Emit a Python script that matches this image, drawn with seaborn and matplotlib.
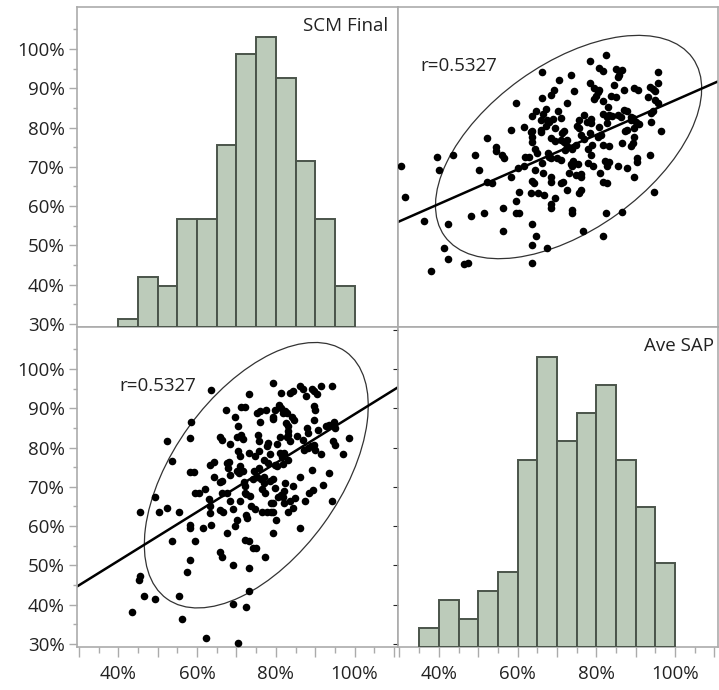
import numpy as np
import matplotlib
matplotlib.use("Agg")
import matplotlib.pyplot as plt
from matplotlib.patches import Ellipse
from matplotlib.ticker import FixedLocator, FuncFormatter
import seaborn as sns

# SCM Final (x of lower-left) and Ave SAP (y of lower-left)
scm_final = [
    43.4, 45.3, 45.6, 46.4, 45.5, 49.3, 49.3, 50.2, 52.3, 52.3,
    53.6, 53.6, 55.5, 55.5, 56.1, 57.4, 58.2, 58.2, 58.2, 58.2,
    58.4, 58.2, 59.1, 59.5, 59.5, 60.6, 61.4, 62.0, 62.3, 62.9,
    63.3, 63.3, 63.3, 64.2, 63.5, 63.5, 64.2, 65.8, 66.2, 65.8,
    66.2, 65.8, 66.5, 65.8, 66.2, 67.4, 67.5, 68.2, 67.5, 68.4,
    67.5, 68.4, 68.4, 69.1, 69.1, 69.2, 69.7, 70.3, 70.1, 70.1,
    70.6, 70.1, 69.7, 70.3, 71.0, 71.1, 72.2, 71.0, 71.8, 72.2,
    72.2, 72.4, 72.6, 72.5, 72.2, 73.1, 73.1, 73.1, 73.1, 73.1,
    73.6, 74.1, 75.0, 74.5, 75.2, 75.6, 75.2, 76.0, 75.6, 75.6,
    76.0, 76.4, 76.9, 76.9, 77.3, 77.3, 77.5, 77.7, 77.7, 78.1,
    78.6, 79.2, 79.2, 79.4, 79.4, 79.8, 79.8, 80.4, 79.4, 80.1,
    80.9, 81.3, 81.1, 81.1, 81.5, 81.3, 81.8, 82.4, 82.0, 82.4,
    82.8, 82.6, 83.2, 83.0, 83.2, 83.0, 83.6, 84.3, 84.1, 84.5,
    84.3, 84.3, 86.2, 86.2, 86.2, 87.0, 87.2, 88.1, 87.4, 87.7,
    87.9, 88.1, 88.3, 89.2, 89.8, 90.4, 89.6, 90.0, 89.6, 89.2,
    89.5, 89.6, 90.0, 91.4, 91.4, 92.1, 90.8, 93.4, 93.4, 94.2,
    94.2, 94.7, 94.4, 95.1, 97.0, 98.5,
    81.4, 81.8, 79.2, 83.1, 94.9, 71.2, 71.6, 75.4, 78.0, 83.5,
    70.3, 74.6, 82.2, 81.8, 70.8, 71.6, 76.3, 79.2, 82.2, 74.6,
    78.8, 80.5, 83.5, 78.8, 67.9, 66.2, 89.0, 92.8, 72.5,
    77.0, 78.5, 80.2, 82.8, 85.3, 86.8, 74.2, 76.6, 73.5, 79.8,
    84.8,
]
ave_sap = [
    38.1, 46.3, 47.4, 42.2, 63.6, 41.4, 67.5, 63.6, 64.6, 81.6,
    76.5, 56.3, 42.2, 63.6, 36.3, 48.2, 51.4, 60.3, 59.5, 82.4,
    86.4, 73.7, 73.7, 56.3, 68.4, 68.4, 59.5, 69.4, 31.4, 66.8,
    65.1, 63.4, 75.6, 76.2, 94.6, 60.3, 72.6, 82.8, 81.8, 71.1,
    68.4, 64.1, 63.6, 53.5, 52.2, 89.6, 76.0, 76.2, 68.4, 66.5,
    58.2, 80.9, 73.1, 50.1, 40.1, 64.3, 87.9, 85.6, 82.8, 73.9,
    73.5, 61.6, 60.1, 30.3, 66.3, 90.3, 90.3, 77.9, 71.1, 70.1,
    68.4, 62.9, 62.0, 39.5, 56.5, 56.1, 49.3, 43.5, 93.7, 78.6,
    65.0, 54.4, 54.4, 73.9, 72.6, 74.8, 88.8, 89.2, 81.6, 79.0,
    86.5, 63.7, 70.9, 72.6, 68.4, 52.2, 89.6, 80.3, 63.7, 76.0,
    71.4, 96.4, 63.7, 58.2, 87.9, 89.6, 75.6, 75.2, 66.0, 61.6,
    90.9, 93.9, 82.8, 78.6, 77.7, 68.0, 67.5, 70.9, 66.0, 89.2,
    88.8, 86.2, 85.4, 84.1, 76.9, 63.6, 93.9, 94.3, 87.9, 87.1,
    70.3, 64.6, 59.5, 72.6, 95.6, 94.8, 79.4, 80.0, 66.3, 93.0,
    85.0, 83.7, 68.4, 94.8, 94.3, 93.7, 90.5, 89.6, 87.1, 74.3,
    69.2, 80.7, 79.4, 95.6, 78.4, 70.5, 84.5, 85.8, 73.5, 95.6,
    66.3, 86.6, 81.6, 80.7, 78.4, 82.4,
    90.1, 88.9, 87.2, 83.3, 85.0, 83.3, 82.1, 83.3, 81.2, 81.6,
    79.1, 77.8, 78.7, 75.7, 75.3, 74.0, 71.9, 71.9, 69.0, 64.3,
    66.0, 67.3, 66.4, 63.5, 74.9, 71.5, 80.4, 85.5, 68.1,
    76.8, 78.3, 80.8, 82.6, 83.0, 81.8, 72.0, 69.5, 67.6, 69.6,
    67.2,
]
assert len(scm_final) == len(ave_sap)

# histogram bars on the diagonal
scm_edges = [40, 45, 50, 55, 60, 65, 70, 75, 80, 85, 90, 95, 100]
scm_counts = [1, 6, 5, 13, 13, 22, 33, 35, 30, 20, 13, 5]
sap_edges = [35, 40, 45, 50, 55, 60, 65, 70, 75, 80, 85, 90, 95, 100]
sap_counts = [2, 5, 3, 6, 8, 20, 31, 22, 25, 28, 20, 15, 9]

r_label = "r=0.5327"
names = ["SCM Final", "Ave SAP"]

sns.set_style("white")
plt.rcParams["font.family"] = ["Open Sans", "DejaVu Sans"]

fig = plt.figure(figsize=(7.19, 6.9), dpi=100)
W, H = 719, 690
def box(x0, y0, x1, y1):
    return [x0 / W, 1 - y1 / H, (x1 - x0) / W, (y1 - y0) / H]

ax_tl = fig.add_axes(box(77, 7, 397.5, 327))
ax_tr = fig.add_axes(box(397.5, 7, 718, 327))
ax_bl = fig.add_axes(box(77, 327, 397.5, 647))
ax_br = fig.add_axes(box(397.5, 327, 718, 647))

xlim = (29.5, 110.9)
ylim = (29.2, 110.7)
grey = "#ababab"
fill = "#bccbba"
edge = "#4a544a"
fs = 13.5
pct = FuncFormatter(lambda v, p: f"{v:.0f}%")
x_lab = FuncFormatter(lambda v, p: f"{v:.0f}%" if round(v) in (40, 60, 80, 100) else "")

for ax in (ax_tl, ax_tr, ax_bl, ax_br):
    ax.set_xlim(*xlim)
    ax.set_ylim(*ylim)
    for s in ax.spines.values():
        s.set_color(grey)
        s.set_linewidth(1.2)
    ax.set_facecolor("white")
    ax.tick_params(left=False, bottom=False, labelleft=False, labelbottom=False)

# y axes on the left column
for ax in (ax_tl, ax_bl):
    ax.yaxis.set_major_locator(FixedLocator(np.arange(30, 101, 10)))
    ax.yaxis.set_minor_locator(FixedLocator(np.arange(35, 106, 10)))
    ax.yaxis.set_major_formatter(pct)
    ax.tick_params(axis="y", which="major", left=True, labelleft=True, length=6,
                   width=1, color=grey, labelsize=fs, labelcolor="#222222", pad=3)
    ax.tick_params(axis="y", which="minor", left=True, length=3, width=1, color=grey)

# x axes on the bottom row
for ax in (ax_bl, ax_br):
    ax.xaxis.set_major_locator(FixedLocator(np.arange(30, 111, 10)))
    ax.xaxis.set_minor_locator(FixedLocator(np.arange(35, 106, 10)))
    ax.xaxis.set_major_formatter(x_lab)
    ax.tick_params(axis="x", which="major", bottom=True, labelbottom=True, length=7,
                   width=1, color=grey, labelsize=fs, labelcolor="#222222", pad=6)
    ax.tick_params(axis="x", which="minor", bottom=True, length=4, width=1, color=grey)

def hist_panel(ax, edges, counts, label, lx):
    hx = ax.twinx()
    centers = [(a + b) / 2 for a, b in zip(edges[:-1], edges[1:])]
    sns.histplot(x=centers, weights=counts, bins=edges, ax=hx, color=fill,
                 edgecolor=edge, linewidth=1.4, alpha=1)
    hx.set_ylim(0, max(counts) / 0.906)
    hx.set_xlim(*xlim)
    hx.set_yticks([])
    hx.set_ylabel("")
    for s in hx.spines.values():
        s.set_visible(False)
    ax.text(lx, 0.942, label, transform=ax.transAxes,
            ha="right", va="center", fontsize=fs, color="#222222")

def scatter_panel(ax, x, y, tx):
    x = np.asarray(x)
    y = np.asarray(y)
    sns.scatterplot(x=x, y=y, ax=ax, color="black", s=30, linewidth=0, zorder=3)
    sns.regplot(x=x, y=y, ax=ax, scatter=False, ci=None, truncate=False,
                line_kws=dict(color="black", lw=1.8))
    # 95% density ellipse
    cov = np.cov(x, y)
    vals, vecs = np.linalg.eigh(cov)
    k = np.sqrt(5.991)
    ang = np.degrees(np.arctan2(vecs[1, 1], vecs[0, 1]))
    ax.add_patch(Ellipse((x.mean(), y.mean()), 2 * k * np.sqrt(vals[1]),
                         2 * k * np.sqrt(vals[0]), angle=ang, fill=False,
                         edgecolor="#333333", lw=0.9))
    ax.set_xlim(*xlim)
    ax.set_ylim(*ylim)
    ax.set_xlabel("")
    ax.set_ylabel("")
    ax.text(tx, 0.815, r_label, transform=ax.transAxes, ha="left", va="center",
            fontsize=fs, color="#222222")

hist_panel(ax_tl, scm_edges, scm_counts, names[0], 0.972)
hist_panel(ax_br, sap_edges, sap_counts, names[1], 0.988)
scatter_panel(ax_tr, ave_sap, scm_final, 0.07)
scatter_panel(ax_bl, scm_final, ave_sap, 0.131)

fig.savefig("out.png", dpi=100)
